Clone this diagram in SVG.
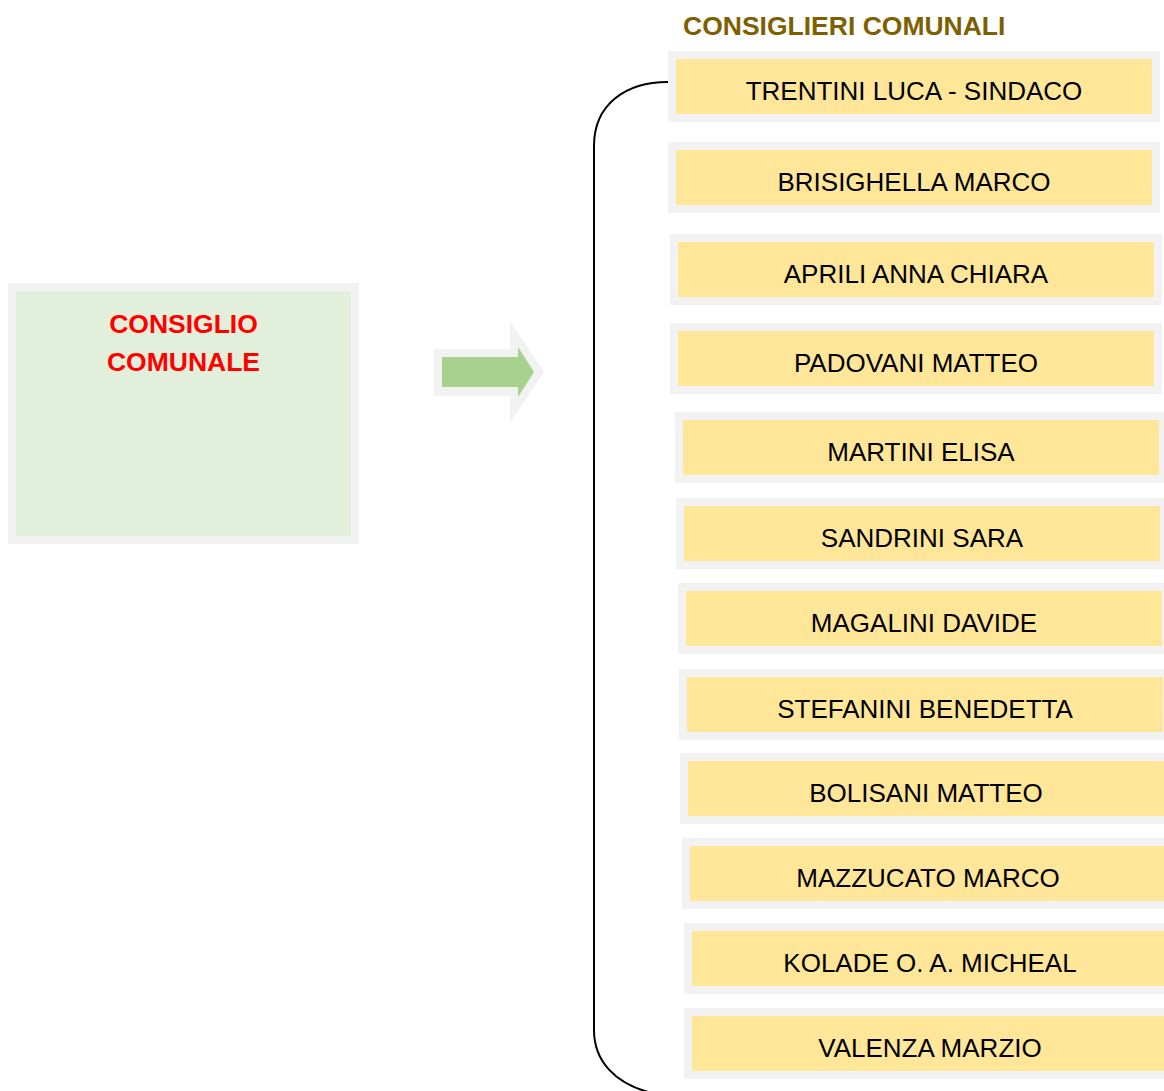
<svg xmlns="http://www.w3.org/2000/svg" width="1164" height="1091" viewBox="0 0 1164 1091">
<style>
.outer{fill:#F2F2F2}
.inner{fill:#FFE699}
.name{font-family:"Liberation Sans",Arial,sans-serif;font-size:26px;fill:#000;text-anchor:middle}
.title{font-family:"Liberation Sans",Arial,sans-serif;font-size:26.5px;font-weight:bold;fill:#7F6000}
.red{font-family:"Liberation Sans",Arial,sans-serif;font-size:26.5px;font-weight:bold;fill:#FF0000;text-anchor:middle}
.conn{fill:none;stroke:#000;stroke-width:2}
</style>
<rect width="1164" height="1091" fill="#FFFFFF"/>
<g id="consiglio">
<rect class="outer" x="8" y="283" width="351" height="261"/>
<rect x="16" y="291" width="335" height="245" fill="#E2EFDA"/>
<text class="red" x="183.5" y="333">CONSIGLIO</text>
<text class="red" x="183.5" y="371">COMUNALE</text>
</g>
<g id="arrow">
<polygon points="434,349 510,349 510,321 544,372 510,423 510,396 434,396" fill="#F2F2F2"/>
<polygon points="442,357 518,357 518,347 534,372 518,397 518,387 442,387" fill="#A9D18E"/>
</g>
<text id="title" class="title" x="683" y="35">CONSIGLIERI COMUNALI</text>
<g id="connectors">
<path class="conn" d="M668,82 C626,82 594,104 594,146 L594,1030 C594,1062 616,1083 648,1092"/>
</g>
<g id="c1"><rect class="outer" x="668" y="51" width="492" height="71"/><rect class="inner" x="676" y="59" width="476" height="55"/><text class="name" x="914" y="100">TRENTINI LUCA - SINDACO</text></g>
<g id="c2"><rect class="outer" x="668" y="142" width="492" height="71"/><rect class="inner" x="676" y="150" width="476" height="55"/><text class="name" x="914" y="191">BRISIGHELLA MARCO</text></g>
<g id="c3"><rect class="outer" x="670" y="234" width="492" height="71"/><rect class="inner" x="678" y="242" width="476" height="55"/><text class="name" x="916" y="283">APRILI ANNA CHIARA</text></g>
<g id="c4"><rect class="outer" x="670" y="323" width="492" height="71"/><rect class="inner" x="678" y="331" width="476" height="55"/><text class="name" x="916" y="372">PADOVANI MATTEO</text></g>
<g id="c5"><rect class="outer" x="675" y="412" width="492" height="71"/><rect class="inner" x="683" y="420" width="476" height="55"/><text class="name" x="921" y="461">MARTINI ELISA</text></g>
<g id="c6"><rect class="outer" x="676" y="498" width="492" height="71"/><rect class="inner" x="684" y="506" width="476" height="55"/><text class="name" x="922" y="547">SANDRINI SARA</text></g>
<g id="c7"><rect class="outer" x="678" y="583" width="492" height="71"/><rect class="inner" x="686" y="591" width="476" height="55"/><text class="name" x="924" y="632">MAGALINI DAVIDE</text></g>
<g id="c8"><rect class="outer" x="679" y="669" width="492" height="71"/><rect class="inner" x="687" y="677" width="476" height="55"/><text class="name" x="925" y="718">STEFANINI BENEDETTA</text></g>
<g id="c9"><rect class="outer" x="680" y="753" width="492" height="71"/><rect class="inner" x="688" y="761" width="476" height="55"/><text class="name" x="926" y="802">BOLISANI MATTEO</text></g>
<g id="c10"><rect class="outer" x="682" y="838" width="492" height="71"/><rect class="inner" x="690" y="846" width="476" height="55"/><text class="name" x="928" y="887">MAZZUCATO MARCO</text></g>
<g id="c11"><rect class="outer" x="684" y="923" width="492" height="71"/><rect class="inner" x="692" y="931" width="476" height="55"/><text class="name" x="930" y="972">KOLADE O. A. MICHEAL</text></g>
<g id="c12"><rect class="outer" x="684" y="1008" width="492" height="71"/><rect class="inner" x="692" y="1016" width="476" height="55"/><text class="name" x="930" y="1057">VALENZA MARZIO</text></g>
</svg>
